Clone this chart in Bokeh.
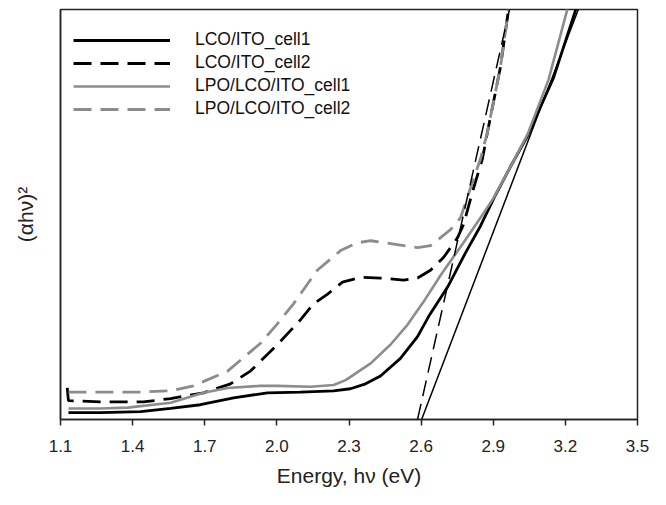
from bokeh.plotting import figure
from bokeh.models import FixedTicker, Range1d, Legend, LegendItem
from bokeh.embed import file_html
from bokeh.resources import INLINE

# ---- data ----
x_ticks = [1.1, 1.4, 1.7, 2.0, 2.3, 2.6, 2.9, 3.2, 3.5]
x_tick_labels = ["1.1", "1.4", "1.7", "2.0", "2.3", "2.6", "2.9", "3.2", "3.5"]

lco1_e = [1.133, 1.266, 1.433, 1.558, 1.682, 1.820, 1.961, 2.098, 2.236, 2.306, 2.369,
          2.431, 2.514, 2.585, 2.631, 2.710, 2.785, 2.847, 2.909, 2.972, 3.043, 3.151,
          3.242, 3.271]
lco1_v = [1.7, 1.7, 1.9, 2.7, 3.6, 5.3, 6.5, 6.7, 7.0, 7.5, 8.7,
          10.6, 14.9, 20.2, 25.1, 32.3, 40.7, 47.2, 54.7, 61.7, 69.2, 83.4,
          99.8, 104.6]

lco2_e = [1.128, 1.133, 1.266, 1.445, 1.558, 1.695, 1.807, 1.890, 2.003, 2.098, 2.152,
          2.211, 2.273, 2.348, 2.431, 2.527, 2.585, 2.639, 2.693, 2.751, 2.776, 2.818,
          2.855, 2.876, 2.930, 2.964, 2.976]
lco2_v = [7.7, 4.6, 4.3, 4.3, 5.1, 6.5, 8.7, 11.8, 18.3, 24.3, 28.2,
          30.6, 33.5, 34.7, 34.5, 34.0, 34.5, 36.4, 39.5, 44.3, 47.5, 56.4,
          63.6, 70.1, 86.0, 100.2, 103.4]

lpo1_e = [1.133, 1.266, 1.379, 1.558, 1.695, 1.795, 1.932, 2.003, 2.140, 2.236, 2.286,
          2.390, 2.473, 2.543, 2.610, 2.681, 2.776, 2.847, 2.901, 2.972, 3.043, 3.130,
          3.209, 3.230]
lpo1_v = [2.7, 2.7, 2.9, 4.1, 6.5, 7.7, 8.2, 8.2, 8.0, 8.4, 9.6,
          13.7, 18.3, 23.1, 28.7, 35.2, 43.1, 49.2, 54.0, 61.7, 69.6, 82.9,
          100.2, 103.4]

lpo2_e = [1.133, 1.266, 1.433, 1.558, 1.653, 1.795, 1.932, 2.003, 2.069, 2.168, 2.265,
          2.335, 2.390, 2.473, 2.585, 2.639, 2.722, 2.764, 2.805, 2.847, 2.876, 2.930,
          2.964, 2.972]
lpo2_v = [6.7, 6.7, 6.7, 7.0, 8.2, 11.8, 18.6, 23.4, 28.2, 36.4, 41.2,
          43.1, 43.6, 42.9, 41.9, 42.4, 46.3, 49.2, 56.4, 63.6, 70.1, 86.0,
          100.2, 102.2]

# linear extrapolation lines (band-gap tangents)
tan1_e = [2.602, 3.270]
tan1_v = [0.0, 102.5]
tan2_e = [2.585, 2.980]
tan2_v = [0.0, 103.3]

labels = ["LCO/ITO_cell1", "LCO/ITO_cell2", "LPO/LCO/ITO_cell1", "LPO/LCO/ITO_cell2"]

BLACK = "#000000"
GREY = "#8c8c8c"
FONT = "Liberation Sans"

p = figure(width=650, height=489, output_backend="svg", toolbar_location=None,
           x_range=Range1d(1.1, 3.5), y_range=Range1d(0, 100))
p.min_border_left = 60
p.min_border_right = 13
p.min_border_top = 9
p.min_border_bottom = 65

p.xgrid.visible = False
p.ygrid.visible = False
p.background_fill_color = "white"
p.border_fill_color = "white"
p.outline_line_color = "#222222"
p.outline_line_width = 1.5

r1 = p.line(lco1_e, lco1_v, line_color=BLACK, line_width=2.8)
r2 = p.line(lco2_e, lco2_v, line_color=BLACK, line_width=2.8, line_dash="18 9")
r3 = p.line(lpo1_e, lpo1_v, line_color=GREY, line_width=2.6)
r4 = p.line(lpo2_e, lpo2_v, line_color=GREY, line_width=2.8, line_dash="18 9")
p.line(tan1_e, tan1_v, line_color=BLACK, line_width=1.5)
p.line(tan2_e, tan2_v, line_color=BLACK, line_width=1.5, line_dash="16 8")

legend = Legend(items=[LegendItem(label=labels[0], renderers=[r1]),
                       LegendItem(label=labels[1], renderers=[r2]),
                       LegendItem(label=labels[2], renderers=[r3]),
                       LegendItem(label=labels[3], renderers=[r4])],
                location=(13, 300))
legend.padding = 0
legend.margin = 0
legend.spacing = 2
legend.glyph_width = 97
legend.glyph_height = 20
legend.label_height = 20
legend.label_standoff = 25
legend.label_text_font = FONT
legend.label_text_font_size = "17.5px"
legend.label_text_color = "#111111"
legend.border_line_color = None
legend.background_fill_alpha = 0
p.add_layout(legend, "center")

xa = p.xaxis[0]
xa.ticker = FixedTicker(ticks=x_ticks)
xa.major_label_overrides = {t: l for t, l in zip(x_ticks, x_tick_labels)}
xa.minor_tick_line_color = None
xa.major_tick_in = 0
xa.major_tick_out = 6
xa.major_tick_line_width = 1.5
xa.axis_line_width = 1.5
xa.axis_line_color = "#222222"
xa.major_tick_line_color = "#222222"
xa.major_label_text_font = FONT
xa.major_label_text_font_size = "17px"
xa.major_label_text_color = "#222222"
xa.major_label_standoff = 14
xa.axis_label = "Energy, hν (eV)"
xa.axis_label_text_font = FONT
xa.axis_label_text_font_size = "21px"
xa.axis_label_text_font_style = "normal"
xa.axis_label_text_color = "#222222"
xa.axis_label_standoff = 9

ya = p.yaxis[0]
ya.ticker = FixedTicker(ticks=[])
ya.minor_tick_line_color = None
ya.major_tick_line_color = None
ya.major_tick_in = 0
ya.major_tick_out = 0
ya.major_label_standoff = 0
ya.axis_line_width = 1.5
ya.axis_line_color = "#222222"
ya.axis_label = "(αhν)²"
ya.axis_label_text_font = FONT
ya.axis_label_text_font_size = "21px"
ya.axis_label_text_font_style = "normal"
ya.axis_label_text_color = "#222222"
ya.axis_label_standoff = 24

open("out.html", "w").write(file_html(p, INLINE))
